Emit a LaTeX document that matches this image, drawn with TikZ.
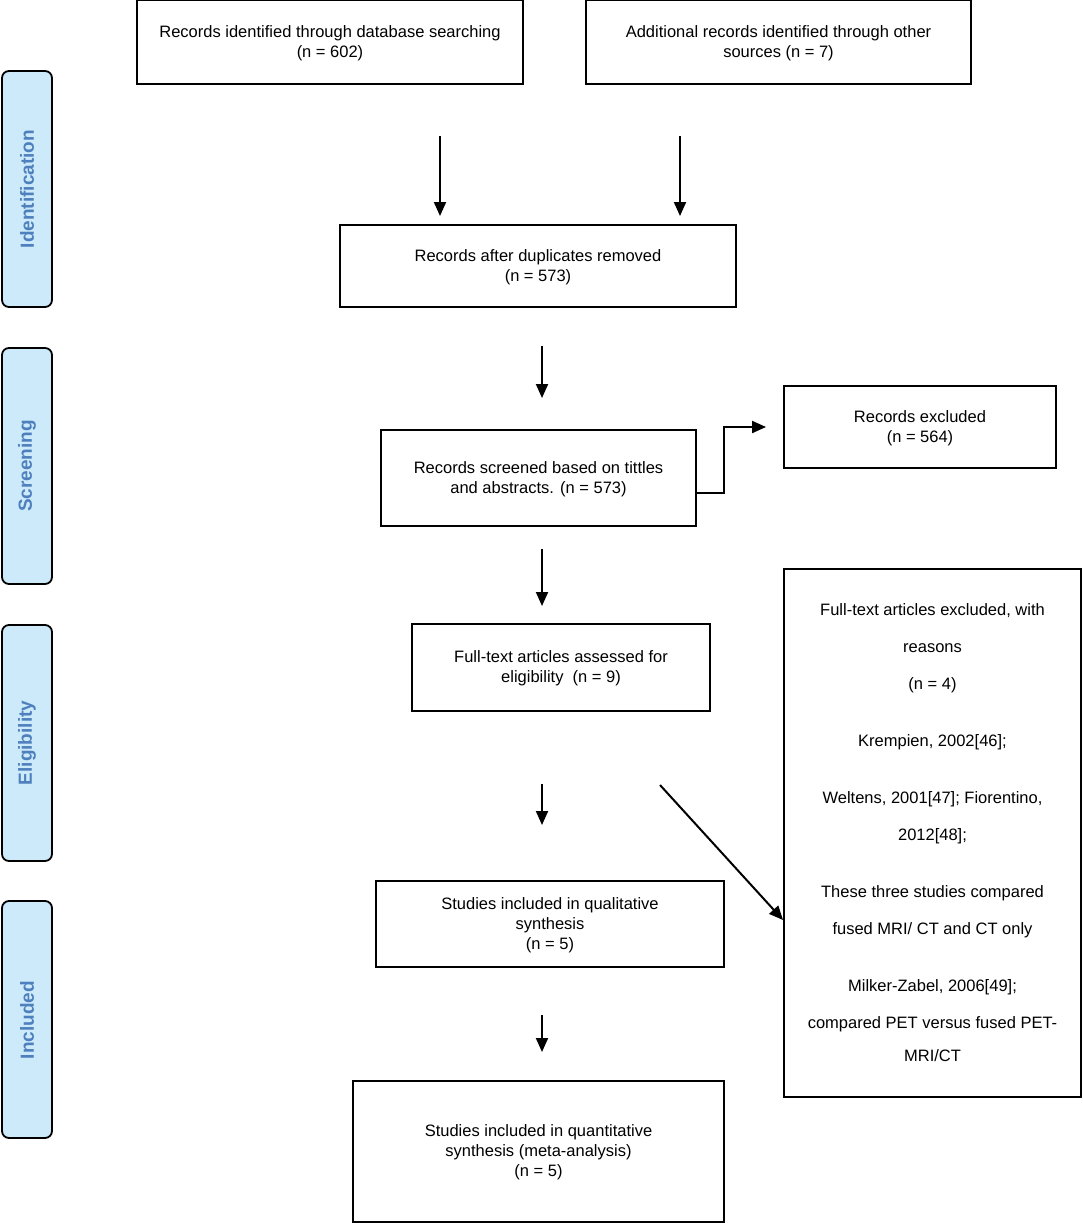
\documentclass[tikz,border=0pt]{standalone}
\usepackage{fontspec}
\setmainfont{Liberation Sans}
\usetikzlibrary{arrows.meta,calc}
\definecolor{barfill}{RGB}{205,234,251}
\definecolor{bartext}{RGB}{78,128,190}
\begin{document}
\begin{tikzpicture}[x=1pt,y=-1pt,
  box/.style={draw=black,line width=1.9pt,fill=white,align=center,inner sep=0pt,
    font=\fontsize{16.5}{20}\selectfont},
  bar/.style={draw=black,line width=1.8pt,fill=barfill,rounded corners=7pt},
  barlabel/.style={rotate=90,text=bartext,font=\fontsize{19}{22}\selectfont\bfseries},
  arr/.style={line width=2pt,-{Triangle[length=14pt,width=12pt]}}]
\useasboundingbox (0,0) rectangle (1082,1223);
% side bars
\draw[bar] (2,71) rectangle (52,307);
\draw[bar] (2,348) rectangle (52,584);
\draw[bar] (2,625) rectangle (52,861);
\draw[bar] (2,901) rectangle (52,1138);
\node[barlabel] (lid) at (27,189) {Identification};
\node[barlabel] (lsc) at (27,466) {Screening};
\node[barlabel] (lel) at (27,743) {Eligibility};
\node[barlabel] (lin) at (27,1020) {Included};
% boxes
\node[box,minimum width=386pt,minimum height=84pt] (db) at (330,42)
  {\rule{0pt}{14pt}Records identified through database searching\\(n = 602)};
\node[box,minimum width=385pt,minimum height=84pt] (ot) at (778.5,42)
  {\rule{0pt}{14pt}Additional records identified through other\\sources (n = 7)};
\node[box,minimum width=396pt,minimum height=82pt] (dup) at (538,266)
  {\rule{0pt}{14pt}Records after duplicates removed\\(n = 573)};
\node[box,minimum width=315pt,minimum height=96pt] (rs) at (538.5,478)
  {\rule{0pt}{14pt}Records screened based on tittles\\and abstracts. (n = 573)};
\node[box,minimum width=272pt,minimum height=82pt] (re) at (920,427)
  {\rule{0pt}{14pt}Records excluded\\(n = 564)};
\node[box,minimum width=298pt,minimum height=87pt] (fa) at (561,667.5)
  {\rule{0pt}{14pt}Full-text articles assessed for\\eligibility\ \ (n = 9)};
\node[box,minimum width=297pt,minimum height=528pt,font=\fontsize{16.5}{37}\selectfont] (fe) at (932.5,833)
  {Full-text articles excluded, with\\reasons\\(n = 4)\\[20pt]Krempien, 2002[46];\\[20pt]Weltens, 2001[47]; Fiorentino,\\2012[48];\\[20pt]These three studies compared\\fused MRI/ CT and CT only\\[20pt]Milker-Zabel, 2006[49];\\compared PET versus fused PET-\\[-4pt]MRI/CT};
\node[box,minimum width=348pt,minimum height=86pt] (ql) at (550,924)
  {\rule{0pt}{14pt}Studies included in qualitative\\synthesis\\(n = 5)};
\node[box,minimum width=371pt,minimum height=141pt] (qn) at (538.5,1151.5)
  {\rule{0pt}{14pt}Studies included in quantitative\\synthesis (meta-analysis)\\(n = 5)};
% free arrow ends
\coordinate (a1s) at (440,136); \coordinate (a1e) at (440,216);
\coordinate (a2s) at (680,136); \coordinate (a2e) at (680,216);
\coordinate (a3s) at (542,346); \coordinate (a3e) at (542,398);
\coordinate (a4s) at (542,549); \coordinate (a4e) at (542,606);
\coordinate (a5s) at (542,784); \coordinate (a5e) at (542,825);
\coordinate (a6s) at (542,1015); \coordinate (a6e) at (542,1052);
\coordinate (d0) at (660,785);
\draw[arr] (a1s) -- (a1e);
\draw[arr] (a2s) -- (a2e);
\draw[arr] (a3s) -- (a3e);
\draw[arr] (a4s) -- (a4e);
\draw[arr] (a5s) -- (a5e);
\draw[arr] (a6s) -- (a6e);
\draw[arr] ([yshift=-15pt]rs.east) -- ++(27,0) |- ([xshift=-17pt]re.west);
\draw[arr] (d0) -- (fe.west |- 0,920);
\end{tikzpicture}
\end{document}
